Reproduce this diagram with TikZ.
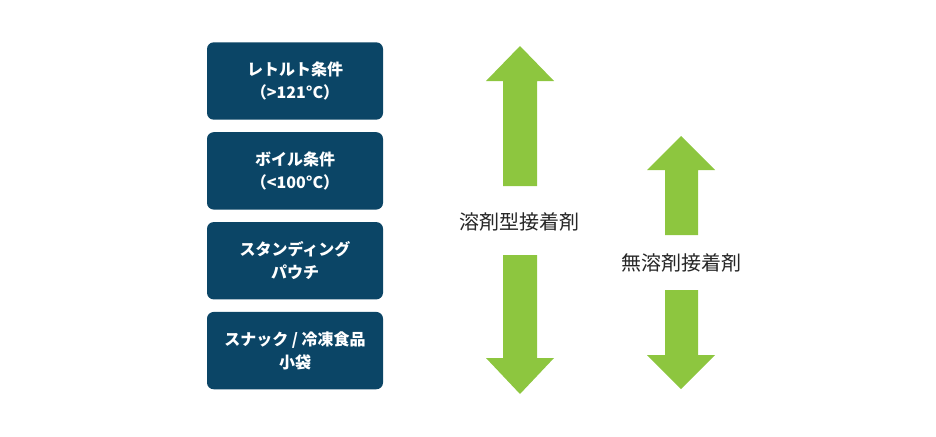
\documentclass[tikz,border=0pt]{standalone}
\usepackage{fontspec}
\newfontfamily\jpfont{Noto Sans CJK JP}
\usetikzlibrary{positioning}
\definecolor{boxblue}{HTML}{0B4566}
\definecolor{arrowgreen}{HTML}{8DC63F}
\tikzset{
	condbox/.style = {draw = none, fill = boxblue, rounded corners = 5pt, minimum width = 132pt, minimum height = 58pt, text = white, align = center, font = \jpfont\bfseries\fontsize{12}{17}\selectfont},
	glue/.style = {font = \jpfont\fontsize{15}{18}\selectfont, text = black!85},
	greenarrow/.style = {fill = arrowgreen, draw = none}
}
% up/down block arrow: tip, head depth, shaft end
\newcommand{\uparr}[4]{\fill[greenarrow] (#1-25,#3) -- (#1-25,#2+35) -- (#1-34,#2+35) -- (#1,#2) -- (#1+34,#2+35) -- (#1+17,#2+35) -- (#1+17,#3) -- cycle;}
\begin{document}
\begin{tikzpicture}[x=0.75pt, y=-0.75pt]
	\useasboundingbox (0,0) rectangle (936,436);
	\node[condbox] (retort) at (295,81) {レトルト条件\\（>121°C）};
	\node[condbox, below = 9pt of retort] (boil) {ボイル条件\\（<100°C）};
	\node[condbox, below = 9pt of boil] (pouch) {スタンディング\\パウチ};
	\node[condbox, below = 9pt of pouch] (snack) {スナック / 冷凍食品\\小袋};
	% solvent-based
	\node[glue] (solvent) at (519,222) {溶剤型接着剤};
	\fill[greenarrow] (503,186) -- (503,81) -- (486,81) -- (520,46) -- (554,81) -- (537,81) -- (537,186) -- cycle;
	\fill[greenarrow] (503,255) -- (503,358) -- (486,358) -- (520,394) -- (554,358) -- (537,358) -- (537,255) -- cycle;
	% solventless
	\node[glue] (solventless) at (681,263) {無溶剤接着剤};
	\fill[greenarrow] (665,235) -- (665,170) -- (647,170) -- (681,136) -- (715,170) -- (698,170) -- (698,235) -- cycle;
	\fill[greenarrow] (665,290) -- (665,355) -- (647,355) -- (681,389) -- (715,355) -- (698,355) -- (698,290) -- cycle;
\end{tikzpicture}
\end{document}
